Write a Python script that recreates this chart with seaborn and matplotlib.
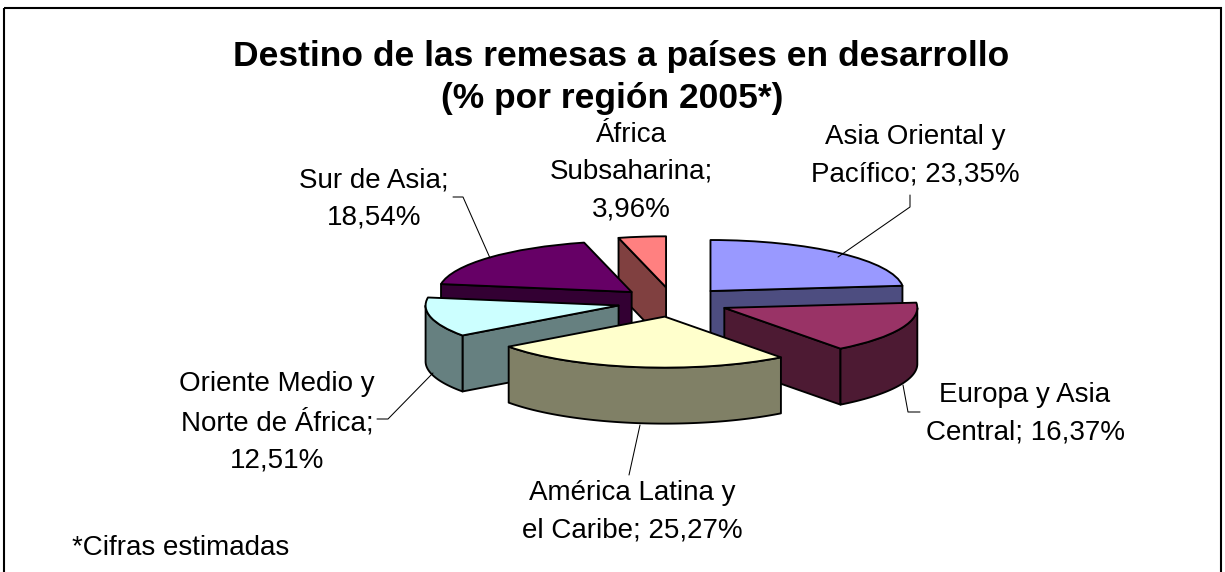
import numpy as np
import matplotlib
matplotlib.use("Agg")
import matplotlib.pyplot as plt
from matplotlib.patches import Rectangle
import seaborn as sns

# ---------------- data ----------------
label_names = ["Asia Oriental y\nPacífico", "Europa y Asia\nCentral",
               "América Latina y\nel Caribe", "Oriente Medio y\nNorte de África",
               "Sur de Asia", "África\nSubsaharina"]
shares = [23.35, 16.37, 25.27, 12.51, 18.54, 3.96]
value_sep = [" ", " ", " ", "\n", "\n", "\n"]
top_colors = ["#9999FF", "#993366", "#FFFFCC", "#CCFFFF", "#660066", "#FF8080"]
side_colors = ["#4D4D80", "#4D1A33", "#808066", "#668080", "#330033", "#804040"]
title_lines = ["Destino de las remesas a países en desarrollo", "(% por región 2005*)"]
footnote = "*Cifras estimadas"

# ---------------- style ----------------
sns.set_theme(style="white")
plt.rcParams["font.family"] = ["Liberation Sans", "DejaVu Sans"]

W, H = 1225, 572
fig = plt.figure(figsize=(W / 100, H / 100), dpi=100)
fig.patch.set_facecolor("white")

# pie geometry (pixels)
cx_px, cy_px = 673, 302
rx_px, ry_px = 193, 51
depth = 56 / ry_px
explode = 0.29
lw = 1.35

ax = fig.add_axes([0, 0, 1, 1])
wedges, _ = ax.pie(shares, startangle=90, counterclock=False,
                   explode=[explode] * len(shares), colors=top_colors,
                   wedgeprops=dict(edgecolor="black", linewidth=lw, joinstyle="round"))
ax.set_aspect("auto")
ax.set_xlim(-cx_px / rx_px, (W - cx_px) / rx_px)
ax.set_ylim((cy_px - H) / ry_px, cy_px / ry_px)
ax.axis("off")

# painter's order: back slices first
order = sorted(range(len(wedges)), key=lambda i: -wedges[i].center[1])
for rank, i in enumerate(order):
    w = wedges[i]
    cx, cy = w.center
    r = w.r
    a1, a2 = w.theta1, w.theta2
    z = 10 + rank * 3
    for a, nrm in ((a1, a1 - 90), (a2, a2 + 90)):
        if np.sin(np.radians(nrm)) < -1e-6:
            t = np.radians(a)
            px, py = cx + r * np.cos(t), cy + r * np.sin(t)
            ax.fill([cx, px, px, cx], [cy, py, py - depth, cy - depth],
                    facecolor=side_colors[i], edgecolor="black", linewidth=lw,
                    joinstyle="round", zorder=z)
    ts = np.radians(np.linspace(a1, a2, 400))
    front = ts[np.sin(ts) <= 0]
    if len(front) > 1:
        xs = cx + r * np.cos(front)
        ys = cy + r * np.sin(front)
        ax.fill(np.r_[xs, xs[::-1]], np.r_[ys, ys[::-1] - depth],
                facecolor=side_colors[i], edgecolor="black", linewidth=lw,
                joinstyle="round", zorder=z + 1)
    w.set_zorder(z + 2)

# ---------------- overlay (pixel coords) ----------------
ov = fig.add_axes([0, 0, 1, 1], zorder=5)
ov.set_xlim(0, W)
ov.set_ylim(H, 0)
ov.axis("off")
ov.patch.set_alpha(0)

ov.add_patch(Rectangle((4, 8), 1217, 700, fill=False, edgecolor="black",
                       linewidth=1.5, clip_on=False))

ov.text(621, 66, title_lines[0], ha="center", va="baseline",
        fontsize=25.5, fontweight="bold", color="black")
ov.text(612, 108, title_lines[1], ha="center", va="baseline",
        fontsize=25.5, fontweight="bold", color="black")

label_pos = [(915, 156), (1025, 414), (632, 512), (277, 422), (374, 199), (631, 172)]
for name, val, sep, (lx, ly) in zip(label_names, shares, value_sep, label_pos):
    txt = f"{name};{sep}{val:.2f}%".replace(".", ",")
    ov.text(lx, ly, txt, ha="center", va="center", fontsize=20,
            linespacing=1.56, color="black", multialignment="center")

leaders = [
    [(910, 195), (910, 207), (838, 257)],
    [(903, 385), (908, 412), (920, 412)],
    [(640, 425), (629, 475)],
    [(377, 419), (388, 419), (433, 373)],
    [(453, 197), (463, 197), (490, 258)],
]
for pts in leaders:
    xs, ys = zip(*pts)
    ov.plot(xs, ys, color="black", linewidth=0.75)

ov.text(72, 555, footnote, ha="left", va="baseline", fontsize=20, color="black")

fig.savefig("out.png", dpi=100, facecolor="white")
